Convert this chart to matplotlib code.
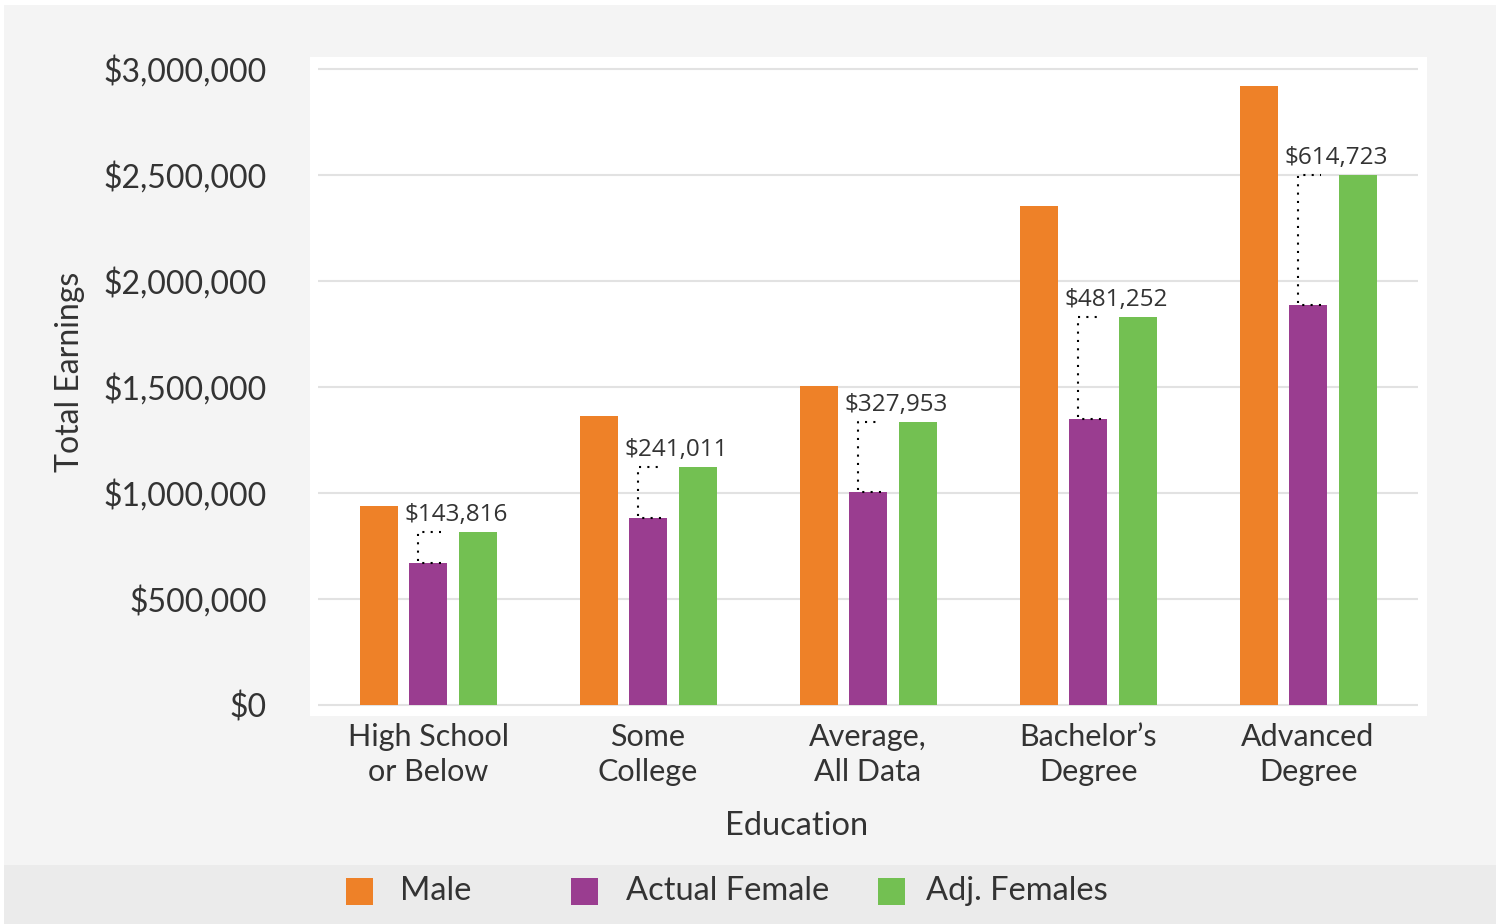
import numpy as np
import matplotlib.pyplot as plt
from matplotlib.patches import Rectangle
from matplotlib.ticker import FuncFormatter

plt.rcParams['font.family'] = ['Lato', 'DejaVu Sans']

# data
categories = ['High School\nor Below', 'Some\nCollege', 'Average,\nAll Data',
              'Bachelor\u2019s\nDegree', 'Advanced\nDegree']
male = [939000, 1363000, 1505000, 2354000, 2920000]
actual_female = [670000, 882000, 1005000, 1349000, 1887000]
adj_female = [814000, 1123000, 1333000, 1830000, 2502000]
gap_labels = ['$143,816', '$241,011', '$327,953', '$481,252', '$614,723']
yticks = [0, 500000, 1000000, 1500000, 2000000, 2500000, 3000000]

c_male = '#EE8128'
c_fem = '#9A3D90'
c_adj = '#73C052'
txt = '#333333'

W, H = 1502, 924
fig = plt.figure(figsize=(W / 100, H / 100), dpi=100, facecolor='white')

# backgrounds
fig.patches.append(Rectangle((4 / W, 0), 1492 / W, (H - 5) / H, transform=fig.transFigure,
                             facecolor='#f4f4f4', edgecolor='none', zorder=-3))
fig.patches.append(Rectangle((4 / W, 0), 1492 / W, 59 / H, transform=fig.transFigure,
                             facecolor='#ebebeb', edgecolor='none', zorder=-2))

# axes covers the white plot area (310..1427, 57..716 px)
ax = fig.add_axes([310 / W, 1 - 716 / H, 1117 / W, 659 / H])
ax.set_facecolor('white')
px_x = 220.0
px_y = 212.0 / 1e6
ax.set_xlim(-0.5 - 8 / px_x, 4.5 + 9 / px_x)
ax.set_ylim(-11 / px_y, (705 - 57) / px_y)
for s in ax.spines.values():
    s.set_visible(False)

x = np.arange(len(categories))
bw = 38 / px_x
off = 49.5 / px_x

ax.hlines(yticks, -0.5, 4.5, color='#e2e2e2', linewidth=1.5, zorder=0)
b1 = ax.bar(x - off, male, bw, color=c_male, label='Male', zorder=2)
b2 = ax.bar(x, actual_female, bw, color=c_fem, label='Actual Female', zorder=2)
b3 = ax.bar(x + off, adj_female, bw, color=c_adj, label='Adj. Females', zorder=2)

# dotted brackets and gap labels
for i in range(len(categories)):
    xl = x[i] - 10 / px_x
    xr = x[i] + 13 / px_x
    f, a = actual_female[i], adj_female[i]
    ax.plot([xr, xl, xl, xr], [f, f, a, a], color='black', linewidth=1.5,
            linestyle=(0, (1, 3)), zorder=3)
    ax.text(x[i] - 24 / px_x, a + 5 / px_y, gap_labels[i], fontsize=17.5,
            family=['Open Sans', 'DejaVu Sans'], color=txt, ha='left', va='bottom')

ax.set_yticks(yticks)
ax.yaxis.set_major_formatter(FuncFormatter(lambda v, p: '${:,.0f}'.format(v)))
ax.set_xticks(x)
ax.set_xticklabels(categories, linespacing=1.3)
ax.tick_params(axis='both', length=0, colors=txt)
ax.tick_params(axis='y', pad=31, labelsize=23)
ax.tick_params(axis='x', pad=5, labelsize=22)
ax.set_ylabel('Total Earnings', fontsize=23, color=txt)
ax.yaxis.set_label_coords((85 - 310) / 1117, (716 - 372) / 659)
fig.text(797 / W, 1 - 826 / H, 'Education', fontsize=23.5, color=txt, ha='center', va='center')

# legend drawn by hand to keep the reference spacing
for bars, sq_x, tx_x in [(b1, 346, 400), (b2, 571, 626), (b3, 878, 926)]:
    fig.patches.append(Rectangle((sq_x / W, 1 - 905 / H), 27 / W, 27 / H,
                                 transform=fig.transFigure,
                                 facecolor=bars.patches[0].get_facecolor(), edgecolor='none'))
    fig.text(tx_x / W, 1 - 891 / H, bars.get_label(), fontsize=23.5, color=txt,
             ha='left', va='center')

fig.savefig('out.png', dpi=100, facecolor=fig.get_facecolor())
